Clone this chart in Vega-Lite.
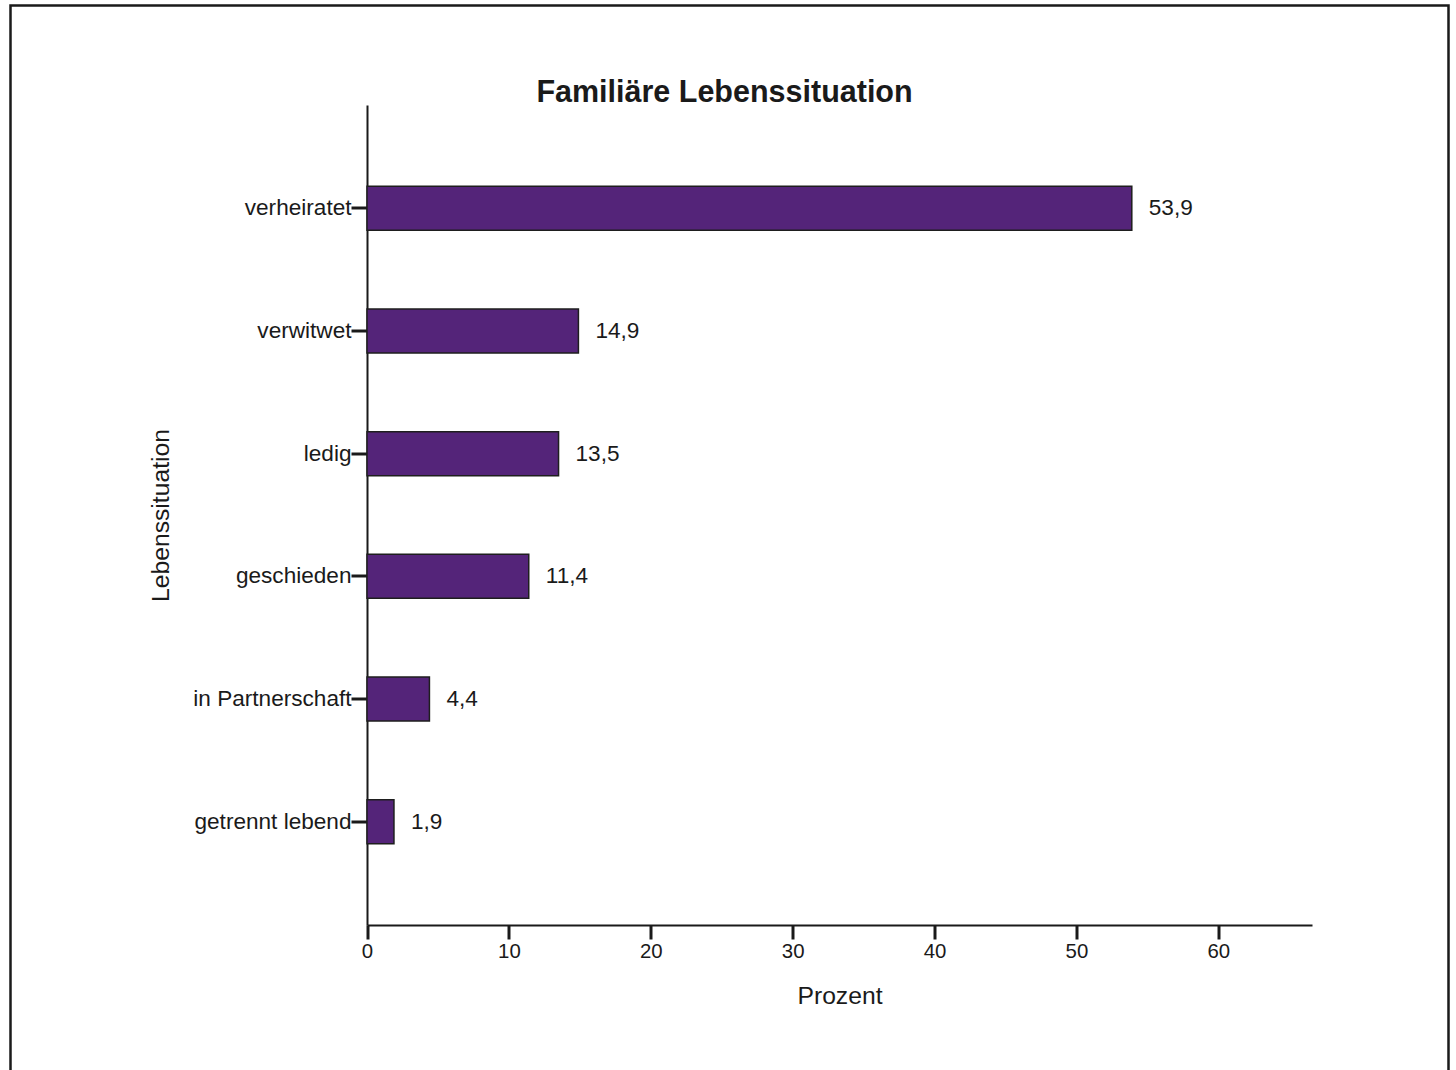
{
  "$schema": "https://vega.github.io/schema/vega-lite/v6.json",
  "autosize": {"type": "none"},
  "padding": {"left": 10.5, "top": 5.5, "right": 7, "bottom": 0},
  "width": 1438,
  "height": 1075,
  "background": "white",
  "title": {
    "text": "Familiäre Lebenssituation",
    "orient": "top",
    "frame": "group",
    "anchor": "middle",
    "baseline": "alphabetic",
    "offset": -126.5,
    "dx": -5,
    "fontSize": 30.5,
    "fontWeight": "bold",
    "font": "Liberation Sans",
    "color": "#1a1a1a"
  },
  "data": {
    "values": [
      {"situation": "verheiratet", "prozent": 53.9},
      {"situation": "verwitwet", "prozent": 14.9},
      {"situation": "ledig", "prozent": 13.5},
      {"situation": "geschieden", "prozent": 11.4},
      {"situation": "in Partnerschaft", "prozent": 4.4},
      {"situation": "getrennt lebend", "prozent": 1.9}
    ]
  },
  "encoding": {
    "y": {
      "field": "situation",
      "type": "nominal",
      "sort": null,
      "scale": {"range": [99.5, 919.5], "paddingInner": 0.641, "paddingOuter": 0.662},
      "axis": {
        "title": "Lebenssituation",
        "offset": -356.5,
        "domainColor": "#1a1a1a",
        "domainWidth": 2,
        "tickColor": "#1a1a1a",
        "tickWidth": 3,
        "tickSize": 16,
        "labelPadding": 0,
        "labelFontSize": 22.6,
        "labelColor": "#1a1a1a",
        "labelFont": "Liberation Sans",
        "titleFont": "Liberation Sans",
        "titleFontSize": 24.7,
        "titleFontWeight": "normal",
        "titleColor": "#1a1a1a",
        "titleBaseline": "alphabetic",
        "titleX": -198.5,
        "grid": false
      }
    },
    "x": {
      "field": "prozent",
      "type": "quantitative",
      "scale": {"domain": [0, 66.6], "range": [356.5, 1301.5], "nice": false, "zero": true},
      "axis": {
        "title": "Prozent",
        "offset": -155.5,
        "values": [0, 10, 20, 30, 40, 50, 60],
        "format": "d",
        "labelFlush": false,
        "domainColor": "#1a1a1a",
        "domainWidth": 2,
        "tickColor": "#1a1a1a",
        "tickWidth": 3,
        "tickSize": 14,
        "labelPadding": 2,
        "labelFontSize": 20.4,
        "labelColor": "#1a1a1a",
        "labelFont": "Liberation Sans",
        "titleFont": "Liberation Sans",
        "titleFontSize": 24.7,
        "titleFontWeight": "normal",
        "titleColor": "#1a1a1a",
        "titleBaseline": "alphabetic",
        "titleY": 78,
        "grid": false
      }
    }
  },
  "layer": [
    {
      "mark": {"type": "bar", "color": "#542479", "stroke": "#1e1e1e", "strokeWidth": 1.5}
    },
    {
      "mark": {"type": "text", "align": "left", "baseline": "middle", "dx": 17, "fontSize": 22.6, "font": "Liberation Sans", "color": "#1a1a1a"},
      "encoding": {
        "text": {"field": "prozent", "type": "quantitative", "format": ".1f"}
      }
    }
  ],
  "config": {
    "locale": {"number": {"decimal": ",", "thousands": ".", "grouping": [3], "currency": ["", " €"]}},
    "view": {"stroke": "#1a1a1a", "strokeWidth": 2.5, "fill": "white"},
    "font": "Liberation Sans"
  }
}
